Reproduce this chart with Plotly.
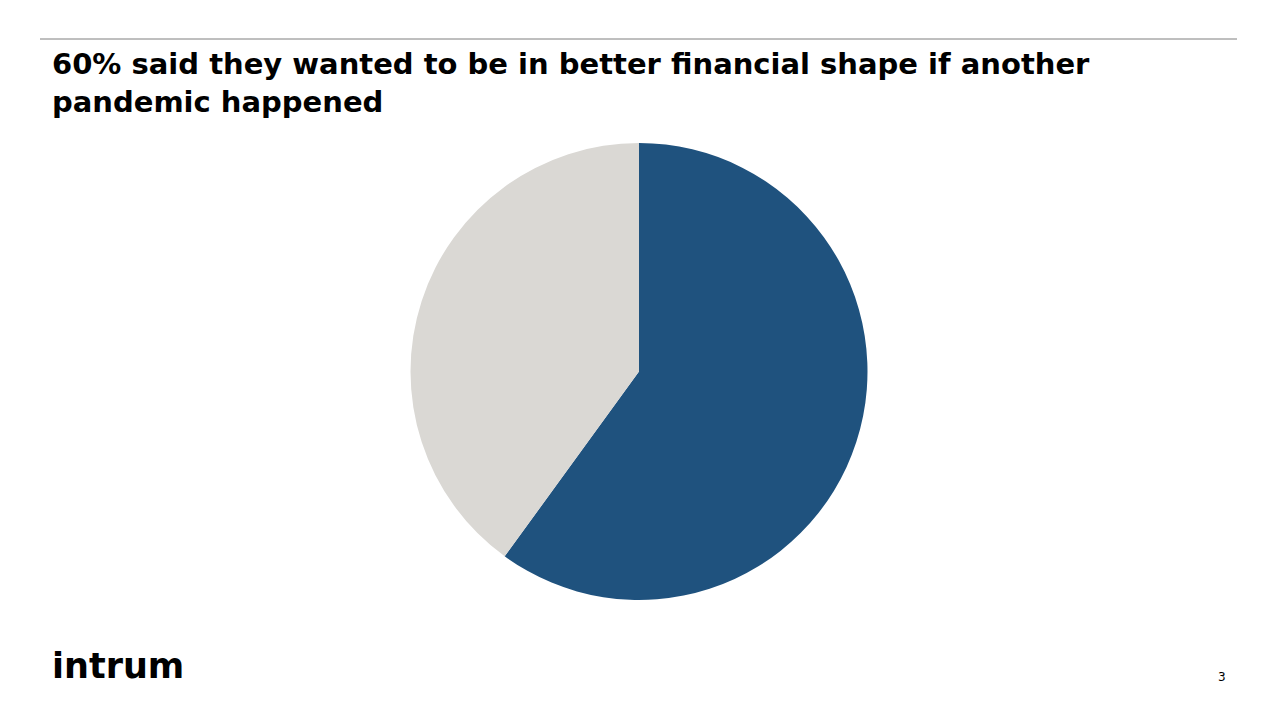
import plotly.graph_objects as go

labels = ["Want to be in better financial shape", "Other"]
values = [60, 40]
colors = ["#1F527E", "#DAD8D4"]

title_lines = ["60% said they wanted to be in better financial shape if another",
               "pandemic happened"]

W, H = 1280, 720
OFF = 8  # page offset of the plot in the browser


def px(x):
    return (x - OFF) / W


def py(y):
    return 1 - (y - OFF) / H


fig = go.Figure()
fig.add_trace(go.Pie(
    labels=labels, values=values, sort=False, direction="clockwise", rotation=0,
    marker=dict(colors=colors, line=dict(width=0)),
    textinfo="none", showlegend=False,
    domain=dict(x=[px(410), px(868)], y=[py(600), py(143)]),
))

fig.add_annotation(text="<b>" + "<br>".join(title_lines) + "</b>", x=px(50), y=py(83),
                   xref="paper", yref="paper", xanchor="left", yanchor="middle", align="left",
                   showarrow=False,
                   font=dict(family="'DejaVu Sans', sans-serif", size=29, color="#000000"))

fig.add_annotation(text="<b>intrum</b>", x=px(50), y=py(666), xref="paper", yref="paper",
                   xanchor="left", yanchor="middle", showarrow=False,
                   font=dict(family="'DejaVu Sans', sans-serif", size=35, color="#000000"))
fig.add_annotation(text="3", x=px(1222), y=py(677), xref="paper", yref="paper",
                   xanchor="center", yanchor="middle", showarrow=False,
                   font=dict(family="'DejaVu Sans', sans-serif", size=12, color="#000000"))

fig.add_shape(type="line", x0=px(40), x1=px(1237), y0=py(39), y1=py(39),
              xref="paper", yref="paper", line=dict(color="#7F7F7F", width=1))

fig.update_layout(width=W, height=H, margin=dict(l=0, r=0, t=0, b=0),
                  paper_bgcolor="white", plot_bgcolor="white")
fig.write_html("out.html")
